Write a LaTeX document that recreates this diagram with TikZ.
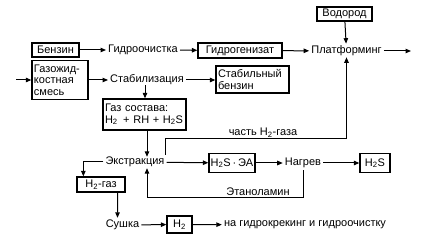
\documentclass[tikz,border=0pt]{standalone}
\usepackage{fontspec}
\setmainfont{Liberation Sans}
\usetikzlibrary{arrows.meta,calc}
\begin{document}
\begin{tikzpicture}[x=1pt,y=-1pt,
  font=\fontsize{11}{12}\selectfont,
  boxn/.style={draw,line width=1.3pt,inner sep=0pt,align=left},
  txt/.style={inner sep=2pt},
  lbl/.style={inner sep=1pt},
  conn/.style={line width=1pt,-{Triangle[length=5.5pt,width=4.5pt]}},
  plain/.style={line width=1pt}]
\useasboundingbox (0,0) rectangle (421,235);
% nodes
\node[boxn,minimum width=55pt,minimum height=14pt,align=center] (vod) at (344.5,14) {Водород};
\node[boxn,minimum width=47pt,minimum height=14pt,align=center] (benz) at (55.5,50) {Бензин};
\node[txt] (gidro) at (143,50) {Гидроочистка};
\node[boxn,minimum width=84pt,minimum height=15pt,align=center] (gen) at (240,50.5) {Гидрогенизат};
\node[txt] (platf) at (346.5,51) {Платформинг};
\node[boxn,minimum width=56pt,minimum height=39pt,text width=52pt] (gazo) at (60,80) {Газожид-\\[-0.5pt]костная\\[-0.5pt]смесь};
\node[txt] (stab) at (147,80) {Стабилизация};
\node[boxn,minimum width=73pt,minimum height=27pt,text width=69pt] (stabb) at (252.5,79.5) {Стабильный\\[-0.5pt]бензин};
\node[boxn,minimum width=83pt,minimum height=31pt,text width=79pt] (gaz) at (144.5,114.5) {Газ состава:\\[-0.5pt]H\textsubscript{2} \,+ RH + H\textsubscript{2}S};
\node[txt] (ext) at (135,162) {Экстракция};
\node[boxn,minimum width=46pt,minimum height=19pt,align=center] (ea) at (232,163) {H\textsubscript{2}S\,·\,ЭА};
\node[txt] (nagr) at (303,163) {Нагрев};
\node[boxn,minimum width=30pt,minimum height=19pt,align=center] (hs) at (375,163) {H\textsubscript{2}S};
\node[boxn,minimum width=48pt,minimum height=15pt,align=center] (hg) at (101,184.5) {H\textsubscript{2}-газ};
\node[txt] (sush) at (122.5,225) {Сушка};
\node[boxn,minimum width=25pt,minimum height=17pt,align=center] (h2) at (179.5,224.5) {H\textsubscript{2}};
\node[txt] (nag) at (305,225) {на гидрокрекинг и гидроочистку};
\node[lbl] (chast) at (263,133) {часть H\textsubscript{2}-газа};
\node[lbl] (etan) at (258,192) {Этаноламин};
% free ends
\coordinate (inL) at (16,80);
\coordinate (outR) at (411,51);
\coordinate (vx) at ($(ext.north)+(12,0)$);
% connectors
\draw[conn] (inL) -- (gazo.west);
\draw[conn] (benz) -- (gidro);
\draw[conn] (gidro) -- (gen);
\draw[conn] (gen) -- (platf);
\draw[conn] (platf) -- (outR);
\draw[conn] (vod) -- (platf);
\draw[conn] (gazo.east |- stab) -- (stab);
\draw[conn] (stab) -- (stab -| stabb.west);
\draw[conn] ($(stab.south)+(-2,-2)$) coordinate (sd) -- (sd |- gaz.north);
\draw[conn] (vx |- gaz.south) -- ($(vx)+(0,2)$);
\draw[conn] (ext) -- (ea);
\draw[conn] (ea) -- (nagr);
\draw[conn] (nagr) -- (hs);
\draw[conn] ($(ext.east)+(-1,-7)$) |- (chast.south -| platf.south) -- ($(platf.south)+(0,-1)$);
\draw[conn] (nagr.south) |- (etan.south -| vx) -- ($(ext.south -| vx)+(0,-1)$);
\draw[conn] (ext.west) -| ($(hg.north west)+(7,0)$);
\draw[conn] ($(hg.south east)+(-8,0)$) -- ($(sush.north)+(-5,0)$);
\draw[conn] (sush) -- (h2);
\draw[conn] (h2) -- (nag);
\end{tikzpicture}
\end{document}
